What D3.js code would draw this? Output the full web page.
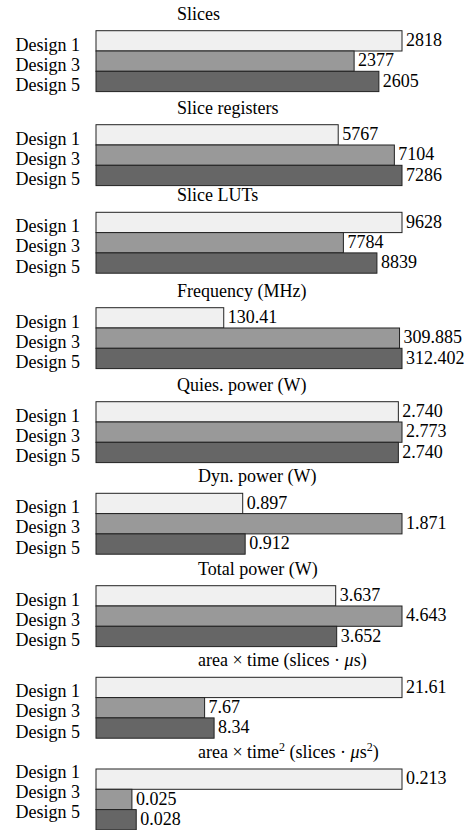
<!DOCTYPE html>
<html>
<head>
<meta charset="utf-8">
<script src="https://cdn.jsdelivr.net/npm/d3@7"></script>
<style>
  html, body { margin: 0; padding: 0; background: #fff; }
  svg, svg text { font-family: "Liberation Serif", "Times New Roman", Times, serif; }
</style>
</head>
<body>
<div id="chart"></div>
<script>
// ---- data ----
const designs = ["Design 1", "Design 3", "Design 5"];
const metrics = [
  "Slices",
  "Slice registers",
  "Slice LUTs",
  "Frequency (MHz)",
  "Quies. power (W)",
  "Dyn. power (W)",
  "Total power (W)",
  "area × time (slices · μs)",
  "area × time2 (slices · μs2)"
];
const slices        = ["2818", "2377", "2605"];
const sliceRegs     = ["5767", "7104", "7286"];
const sliceLUTs     = ["9628", "7784", "8839"];
const frequency     = ["130.41", "309.885", "312.402"];
const quiesPower    = ["2.740", "2.773", "2.740"];
const dynPower      = ["0.897", "1.871", "0.912"];
const totalPower    = ["3.637", "4.643", "3.652"];
const areaTime      = ["21.61", "7.67", "8.34"];
const areaTime2     = ["0.213", "0.025", "0.028"];
const seriesValues = [slices, sliceRegs, sliceLUTs, frequency, quiesPower,
                      dynPower, totalPower, areaTime, areaTime2];

// ---- layout ----
const W = 470, H = 830;
const panelTop = [30.7, 124.7, 212.3, 307.7, 401.7, 493.3, 585.7, 677.3, 769];
const titleX = [177, 177, 177, 177, 177, 198, 198, 198, 198];
const labelShift = [0, 0, 0, 0, 0, 0, 0, 0, -11];
const rowH = 20.3;
const x0 = 96, x1 = 402;
const fills = ["#f0f0f0", "#999999", "#666666"];
const fontSize = 18;
const serif = '"Liberation Serif", "Times New Roman", Times, serif';

const svg = d3.select("#chart").append("svg")
  .attr("width", W).attr("height", H);

seriesValues.forEach((vals, i) => {
  const top = panelTop[i];
  const g = svg.append("g");
  const nums = vals.map(Number);
  const x = d3.scaleLinear().domain([0, d3.max(nums)]).range([x0, x1]);
  const y = d3.scaleBand().domain(designs).range([top, top + 3 * rowH]).paddingInner(0);
  const color = d3.scaleOrdinal().domain(designs).range(fills);

  // title
  const t = g.append("text")
    .attr("x", titleX[i]).attr("y", top - 11)
    .attr("font-family", serif)
    .attr("font-size", fontSize).attr("fill", "#000");
  const m = metrics[i];
  if (i === 7 || i === 8) {
    t.append("tspan").text("area × time");
    if (i === 8) t.append("tspan").attr("font-size", 12).attr("dy", -7).text("2");
    t.append("tspan").attr("dy", i === 8 ? 7 : 0).text(" (slices · ");
    t.append("tspan").attr("font-style", "italic").text("μ");
    t.append("tspan").text("s");
    if (i === 8) {
      t.append("tspan").attr("font-size", 12).attr("dy", -7).text("2");
      t.append("tspan").attr("dy", 7).text(")");
    } else {
      t.append("tspan").text(")");
    }
  } else {
    t.text(m);
  }

  const rows = designs.map((d, j) => ({ design: d, label: vals[j], value: nums[j] }));

  // bars
  g.selectAll("rect.bar").data(rows).join("rect")
    .attr("class", "bar")
    .attr("x", x(0))
    .attr("y", d => y(d.design))
    .attr("width", d => x(d.value) - x(0))
    .attr("height", y.bandwidth())
    .attr("fill", d => color(d.design))
    .attr("stroke", "#222")
    .attr("stroke-width", 1);

  // value labels
  g.selectAll("text.val").data(rows).join("text")
    .attr("class", "val")
    .attr("x", d => x(d.value) + 4)
    .attr("y", d => y(d.design) + y.bandwidth() - 5)
    .attr("font-family", serif)
    .attr("font-size", fontSize)
    .attr("fill", "#000")
    .text(d => d.label);

  // category axis
  const axis = g.append("g")
    .attr("transform", `translate(${x0},0)`)
    .call(d3.axisLeft(y).tickSize(0).tickPadding(16))
    .attr("font-family", serif)
    .attr("font-size", fontSize);
  axis.select(".domain").remove();
  axis.selectAll("text")
    .attr("fill", "#000")
    .attr("dy", (y.bandwidth() / 2 - 0.5 + labelShift[i]) + "px");
});
</script>
</body>
</html>
